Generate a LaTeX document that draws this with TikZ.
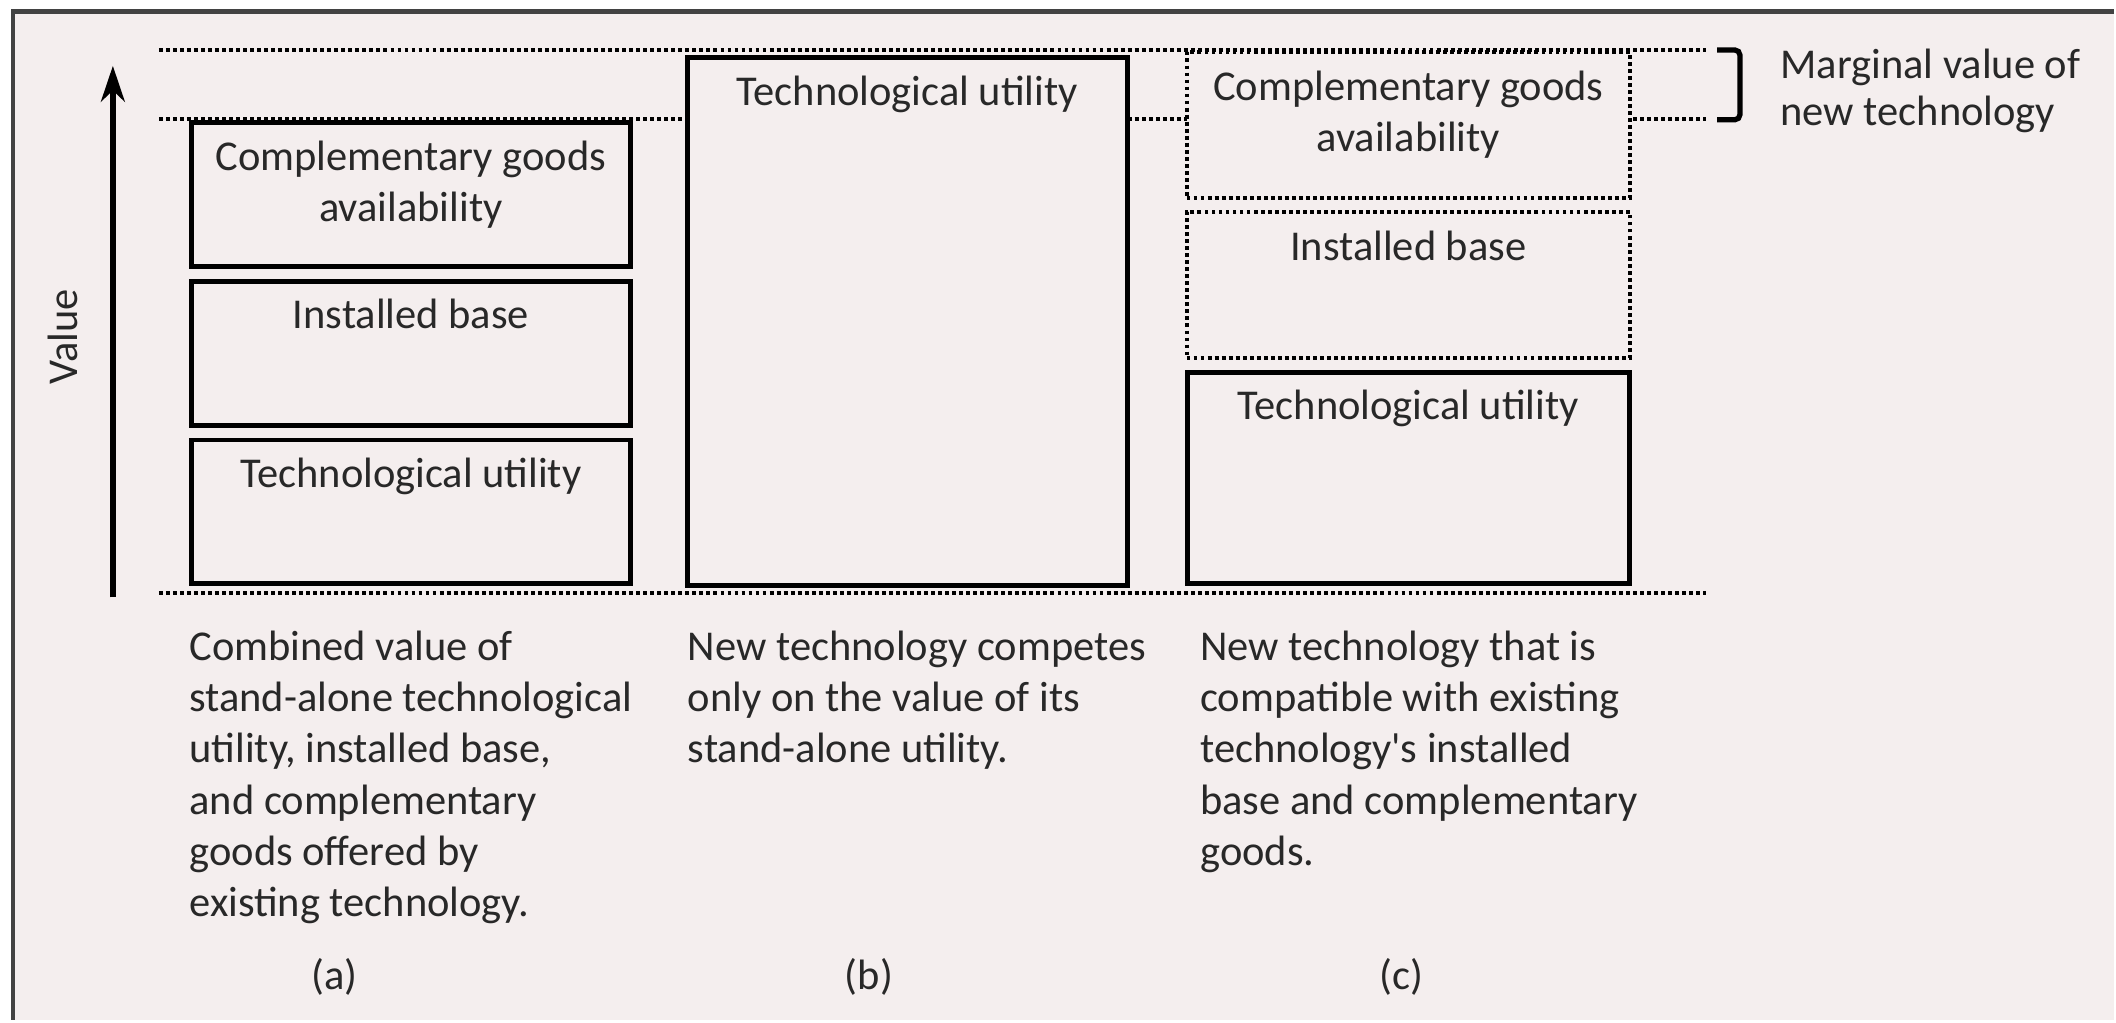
\documentclass[tikz,border=0pt]{standalone}
\usepackage{fontspec}
\setmainfont{Carlito}
\usepackage{xcolor}
\usepackage{tikz}
\usetikzlibrary{arrows.meta}
\usetikzlibrary{positioning}

\definecolor{paper}{RGB}{244,238,238}
\definecolor{frame}{RGB}{66,66,66}
\definecolor{ink}{RGB}{40,40,40}

\begin{document}
\begin{tikzpicture}[>={Stealth[length=3.6mm,width=2.4mm]},font=\fontsize{12.1}{14.6}\selectfont,text=ink,
    box/.style={rectangle,draw,line width=1.4pt,fill=paper,inner sep=0pt,minimum width=4.40cm},
    dots/.style={line width=1.1pt,dash pattern=on 1.1pt off 0.9pt},
    ghost box/.style={box,dots,minimum width=4.44cm,minimum height=1.46cm},
    box text/.style={align=center,inner sep=0pt},
    note/.style={align=left,inner sep=0pt,anchor=north west}]

    % page and frame
    \fill[white] (0,0) rectangle (21.16,10.21);
    \fill[paper] (0.13,0) rectangle (21.16,10.095);
    \draw[frame,line width=1.4pt] (0.13,0) -- (0.13,10.095) -- (21.16,10.095);
    \useasboundingbox (0,0) rectangle (21.16,10.21);

    % value levels
    \coordinate (top-l) at (1.59,9.71);
    \coordinate (top-r) at (17.08,9.71);
    \coordinate (mid-l) at (1.59,9.02);
    \coordinate (mid-r) at (17.08,9.02);
    \coordinate (base-l) at (1.59,4.27);
    \coordinate (base-r) at (17.08,4.27);
    \draw[dots] (top-l) -- (top-r);
    \draw[dots] (mid-l) -- (mid-r);
    \draw[dots] (base-l) -- (base-r);

    % value axis
    \coordinate (origin) at (1.13,4.23);
    \coordinate (axis-top) at (1.13,9.55);
    \draw[->,line width=1.5pt] (origin) -- (axis-top);
    \node[rotate=90] (value) at (0.63,6.84) {Value};

    % (a) existing technology
    \node[box,minimum height=1.44cm,anchor=south west] (a-tech) at (1.89,4.34) {};
    \node[box,minimum height=1.44cm,above=0.1cm of a-tech] (a-base) {};
    \node[box,minimum height=1.44cm,above=0.1cm of a-base] (a-goods) {};
    \node[box text,below=0.2cm of a-goods.north] {Complementary goods\\availability};
    \node[box text,below=0.2cm of a-base.north] {Installed base};
    \node[box text,below=0.2cm of a-tech.north] {Technological utility};

    % (b) incompatible new technology
    \node[box,minimum height=5.29cm,anchor=south west] (b-tech) at (6.86,4.32) {};
    \node[box text,below=0.2cm of b-tech.north] {Technological utility};

    % (c) compatible new technology
    \node[box,minimum width=4.43cm,minimum height=2.12cm,anchor=south west] (c-tech) at (11.86,4.34) {};
    \node[ghost box,above=0.1cm of c-tech] (c-base) {};
    \node[ghost box,above=0.1cm of c-base] (c-goods) {};
    \node[box text,below=0.2cm of c-goods.north] {Complementary goods\\availability};
    \node[box text,below=0.2cm of c-base.north] {Installed base};
    \node[box text,below=0.2cm of c-tech.north] {Technological utility};

    % marginal value bracket
    \draw[line width=1.5pt,rounded corners=1.5pt] (17.19,9.71) -- (17.42,9.71) -- (17.42,9.01) -- (17.19,9.01);
    \node[align=left,inner sep=0pt,anchor=west] (margin) at (17.82,9.30) {Marginal value of\\[-1pt]new technology};

    % captions
    \node[note] (a-note) at (1.89,3.90) {Combined value of\\stand-alone technological\\utility, installed base,\\and complementary\\goods offered by\\existing technology.};
    \node[note] (b-note) at (6.88,3.90) {New technology competes\\only on the value of its\\stand-alone utility.};
    \node[note] (c-note) at (12.01,3.90) {New technology that is\\compatible with existing\\technology\textquotesingle s installed\\base and complementary\\goods.};

    \node (a-label) at (3.35,0.43) {(a)};
    \node (b-label) at (8.70,0.43) {(b)};
    \node (c-label) at (14.03,0.43) {(c)};

\end{tikzpicture}
\end{document}
